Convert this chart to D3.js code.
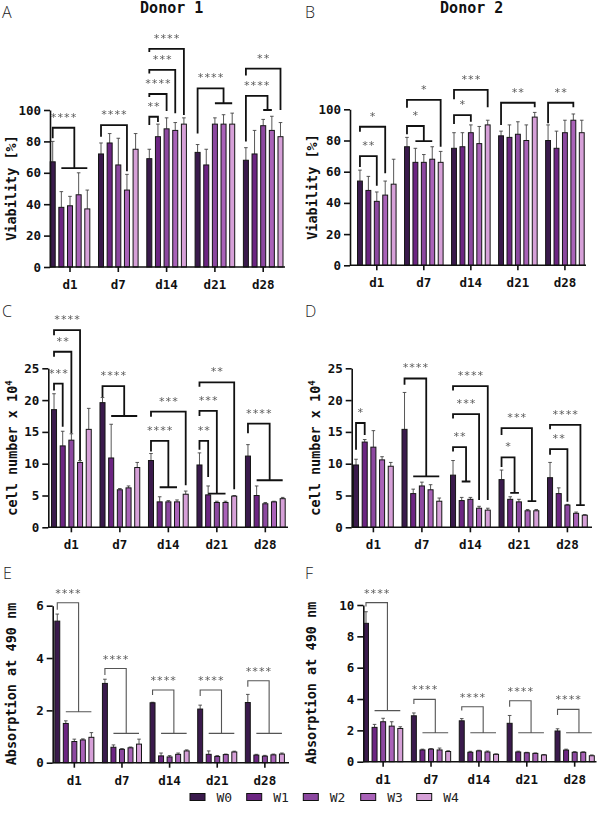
<!DOCTYPE html>
<html><head><meta charset="utf-8">
<script src="https://cdn.jsdelivr.net/npm/d3@7"></script>
<style>body{margin:0;background:#fff} svg{display:block} .sigt{filter:grayscale(1)}</style>
</head><body>
<svg id="c" width="600" height="822"></svg>
<script>
const days = ["d1","d7","d14","d21","d28"];
const groups = ["W0","W1","W2","W3","W4"];
const colors = ["#3a1a4c","#6c2582","#8c48a0","#a962b8","#d6a0d8"];

// Panel A – viability, donor 1 (rows = days, cols = W0..W4)
const viab1 = [[67,38,39,46,37],[72,79,65,49,75],[69,83,88,87,91],[73,65,91,91,91],[68,72,90,87,83]];
const viab1Err = [[13,10,6,14,12],[7,6,17,10,10],[6,8,7,5,4],[5,10,4,6,7],[8,15,4,9,9]];
// significance: [day, from, toStart, toEnd, top, leftEnd, rightEnd, label]
const viab1Sig = [
  [0,0,1,4,88.7,82,63,"****"],
  [1,0,3,3,90.4,83,61,"****"],
  [2,0,1,1,95.7,90.4,92.4,"**"],
  [2,0,2,2,110.2,108.3,99.4,"****"],
  [2,0,3,3,125.5,123.2,98,"***"],
  [2,0,4,4,138.9,137,96.8,"****"],
  [3,0,2,4,113.8,85,104.3,"****"],
  [4,0,4,4,126.4,122,100,"**"],
  [4,0,2,3,109,80,100,"****"]
];

// Panel B – viability, donor 2
const viab2 = [[54,48,41,45,52],[76,66,66,68,66],[75,76,85,78,90],[83,82,84,80,95],[80,75,85,93,85]];
const viab2Err = [[7,9,6,9,16],[6,9,5,8,7],[10,9,5,11,3],[3,8,8,10,3],[10,11,8,4,8]];
const viab2Sig = [
  [0,0,2,2,70,63,51,"**"],
  [0,0,3,3,88.8,85.6,59,"*"],
  [1,0,1,3,89.3,84,79.6,"*"],
  [1,0,4,4,106,101,76,"*"],
  [2,0,2,2,96.3,90.6,92,"*"],
  [2,0,4,4,112.4,106.4,101.3,"***"],
  [3,0,4,4,104.2,90,101.3,"**"],
  [4,0,3,3,104.2,91,101.3,"**"]
];

// Panel C – cell number, donor 1
const cells1 = [[18.5,12.8,13.7,10.2,15.4],[19.6,10.9,5.9,6.2,9.4],[10.5,4.0,4.0,4.0,5.2],[9.8,5.1,3.9,3.9,4.9],[11.2,5.0,3.7,4.0,4.5]];
const cells1Err = [[2.5,2.3,1.0,0.3,3.3],[0.8,5.3,0.2,0.3,0.8],[1.1,0.8,0.2,0.3,0.5],[1.9,1.4,0.2,0.2,0.1],[1.8,1.5,0.2,0.1,0.2]];
const cells1Sig = [
  [0,0,1,1,22.6,21.5,15.8,"***"],
  [0,0,2,2,27.6,26.8,14.8,"**"],
  [0,0,3,3,31,30.2,10.6,"****"],
  [1,0,1,4,22.2,20.5,17.5,"****"],
  [2,0,1,3,13.6,11.9,6.3,"****"],
  [2,0,4,4,18.2,17.4,6.6,"***"],
  [3,0,1,1,13.6,12.2,7.9,"**"],
  [3,0,1,3,18.3,17.5,5.3,"***"],
  [3,0,4,4,22.8,22.1,6.0,"**"],
  [4,0,1,4,16.3,14.8,7.4,"****"]
];

// Panel D – cell number, donor 2
const cells2 = [[9.8,13.4,12.6,10.6,9.6],[15.4,5.3,6.5,5.9,4.1],[8.2,4.2,4.4,3.0,2.7],[7.5,4.4,4.0,2.6,2.6],[7.8,5.3,3.5,2.2,1.9]];
const cells2Err = [[0.9,0.4,2.6,0.5,0.6],[5.8,0.7,0.6,0.8,0.5],[2.3,0.5,0.3,0.3,0.3],[1.5,0.4,0.4,0.2,0.2],[2.4,0.9,0.1,0.2,0.1]];
const cells2Sig = [
  [0,0,1,1,16.4,12.2,14.5,"*"],
  [1,0,1,4,23.4,22.4,8.0,"****"],
  [2,0,1,2,12.6,11.9,7.2,"**"],
  [2,0,3,3,17.8,17.1,4.3,"***"],
  [2,0,4,4,22.2,21.5,4.3,"****"],
  [3,0,1,2,11.0,9.5,5.4,"*"],
  [3,0,3,4,15.6,14.5,4.1,"***"],
  [4,0,2,2,12.3,11.4,4.0,"**"],
  [4,0,3,4,16.1,15.4,3.5,"****"]
];

// Panel E – absorption, donor 1
const abs1 = [[5.41,1.5,0.81,0.87,0.97],[3.03,0.59,0.51,0.57,0.71],[2.29,0.26,0.22,0.32,0.45],[2.05,0.32,0.24,0.31,0.41],[2.3,0.29,0.25,0.3,0.33]];
const abs1Err = [[0.27,0.1,0.09,0.04,0.18],[0.16,0.09,0.03,0.03,0.19],[0.02,0.11,0.05,0.05,0.04],[0.15,0.13,0.03,0.02,0.03],[0.31,0.03,0.03,0.03,0.04]];
const abs1Sig = [
  [0,0,1,4,6.11,5.85,1.95,"****"],
  [1,0,1,4,3.6,3.35,1.12,"****"],
  [2,0,1,4,2.78,2.59,1.12,"****"],
  [3,0,1,4,2.78,2.55,1.12,"****"],
  [4,0,1,4,3.13,2.9,1.12,"****"]
];

// Panel F – absorption, donor 2
const abs2 = [[8.83,2.19,2.55,2.27,2.12],[2.93,0.75,0.8,0.75,0.65],[2.61,0.6,0.69,0.62,0.47],[2.45,0.62,0.57,0.53,0.43],[1.96,0.74,0.6,0.6,0.38]];
const abs2Err = [[0.74,0.19,0.22,0.28,0.11],[0.18,0.05,0.04,0.12,0.05],[0.14,0.06,0.04,0.06,0.03],[0.5,0.05,0.03,0.03,0.03],[0.14,0.06,0.04,0.03,0.05]];
const abs2Sig = [
  [0,0,1,4,10.15,9.9,3.26,"****"],
  [1,0,1,4,3.98,3.68,1.85,"****"],
  [2,0,1,4,3.51,3.26,1.85,"****"],
  [3,0,1,4,3.89,3.5,1.85,"****"],
  [4,0,1,4,3.34,2.98,1.85,"****"]
];

const ticksViab = [0,20,40,60,80,100];
const ticksCells = [0,5,10,15,20,25];
const ticksAbs1 = [0,2,4,6];
const ticksAbs2 = [0,2,4,6,8,10];

const svg = d3.select("#c");
const mono = "'DejaVu Sans Mono', monospace";

function drawPanel(p) {
  const g = svg.append("g");
  const x = d3.scaleBand().domain(days).range(p.xr).paddingInner(0.18).paddingOuter(0);
  const xs = d3.scaleBand().domain(groups).range([0, x.bandwidth()]).paddingInner(0.42);
  const y = d3.scaleLinear().domain([0, p.ymax]).range(p.yr);
  const cx = (di, wi) => x(days[di]) + xs(groups[wi]) + xs.bandwidth() / 2;
  const rows = days.flatMap((d, i) => groups.map((w, j) => ({ i, j, v: p.vals[i][j], e: p.errs[i][j] })));

  // error bars (upper whisker)
  g.append("g").selectAll("path").data(rows).join("path")
    .attr("d", r => { const c = cx(r.i, r.j), t = y(r.v + r.e);
      return `M${c},${y(r.v)}V${t}M${c - 1.8},${t}H${c + 1.8}`; })
    .attr("stroke", "#444").attr("stroke-width", 0.9).attr("fill", "none");

  g.append("g").selectAll("rect").data(rows).join("rect")
    .attr("x", r => x(days[r.i]) + xs(groups[r.j]))
    .attr("y", r => y(r.v))
    .attr("width", xs.bandwidth())
    .attr("height", r => y(0) - y(r.v))
    .attr("fill", r => colors[r.j])
    .attr("stroke", "#151515").attr("stroke-width", 1);

  // y axis
  const ya = g.append("g").attr("transform", `translate(${p.ax},0)`)
    .call(d3.axisLeft(y).tickValues(p.ticks).tickFormat(d3.format("d"))
      .tickSize(6).tickPadding(3).tickSizeOuter(0));
  ya.select(".domain").attr("stroke", "#111").attr("stroke-width", 1.6);
  ya.selectAll(".tick line").attr("stroke", "#111").attr("stroke-width", 1.6);
  ya.selectAll(".tick text").attr("font-family", mono).attr("font-weight", "bold")
    .attr("font-size", 12.5).attr("fill", "#111");

  // x axis
  const y0 = y(0);
  g.append("line").attr("x1", p.ax).attr("x2", p.xEnd).attr("y1", y0).attr("y2", y0)
    .attr("stroke", "#111").attr("stroke-width", 1.6);
  const xa = g.append("g").attr("transform", `translate(0,${y0})`)
    .call(d3.axisBottom(x).tickSize(5).tickPadding(8).tickSizeOuter(0));
  xa.select(".domain").remove();
  xa.selectAll(".tick line").attr("stroke", "#111").attr("stroke-width", 1.6);
  xa.selectAll(".tick text").attr("font-family", mono).attr("font-weight", "bold")
    .attr("font-size", 12.5).attr("fill", "#111");

  // significance brackets
  const sg = g.append("g");
  const st = g.append("g").attr("class", "sigt");
  p.sig.forEach(s => {
    const [di, from, t0, t1, top, lEnd, rEnd, lab] = s;
    const xl = cx(di, from);
    const xr = (cx(di, t0) + cx(di, t1)) / 2;
    let d = `M${xl},${y(lEnd)}V${y(top)}H${xr}V${y(rEnd)}`;
    if (t1 > t0) d += `M${cx(di, t0)},${y(rEnd)}H${cx(di, t1)}`;
    sg.append("path").attr("d", d).attr("fill", "none")
      .attr("stroke", p.thin ? "#555" : "#111")
      .attr("stroke-width", p.thin ? 1.1 : 1.8);
    st.append("text").attr("x", (xl + xr) / 2).attr("y", y(top) - (p.thin ? 6 : 7))
      .attr("text-anchor", "middle").attr("font-family", mono)
      .attr("font-size", 11).attr("fill", "#5a5a5a").text(lab);
  });

  // y label
  const yl = svg.append("text")
    .attr("transform", `translate(${p.ylx},${p.yly}) rotate(-90)`)
    .attr("text-anchor", "middle").attr("font-family", mono).attr("font-weight", "bold")
    .attr("font-size", 13.5).attr("fill", "#111");
  if (p.sup) {
    yl.append("tspan").text(p.ylabel);
    yl.append("tspan").attr("dy", -5).attr("font-size", 9).text(p.sup);
  } else yl.text(p.ylabel);

  // panel letter
  svg.append("text").attr("x", p.lx).attr("y", p.ly)
    .attr("font-family", "'Open Sans', 'Noto Sans', sans-serif").attr("font-weight", 300)
    .attr("font-size", 16).attr("fill", "#222").text(p.letter);
}

drawPanel({letter:"A", lx:2, ly:17.5, vals:viab1, errs:viab1Err, sig:viab1Sig, ymax:100, ticks:ticksViab,
  yr:[267,110], xr:[50.2,283], ax:50, xEnd:285, ylabel:"Viability [%]", ylx:15.5, yly:188});
drawPanel({letter:"B", lx:305, ly:17.5, vals:viab2, errs:viab2Err, sig:viab2Sig, ymax:100, ticks:ticksViab,
  yr:[265.3,109.3], xr:[357.5,584.2], ax:350, xEnd:586, ylabel:"Viability [%]", ylx:317, yly:187});
drawPanel({letter:"C", lx:2, ly:317, vals:cells1, errs:cells1Err, sig:cells1Sig, ymax:25, ticks:ticksCells,
  yr:[527.3,368.3], xr:[51.5,285.2], ax:48.3, xEnd:288, ylabel:"cell number x 10", sup:"4", ylx:16.5, yly:448});
drawPanel({letter:"D", lx:305, ly:317, vals:cells2, errs:cells2Err, sig:cells2Sig, ymax:25, ticks:ticksCells,
  yr:[527.3,368.3], xr:[353.5,587.3], ax:351.7, xEnd:592, ylabel:"cell number x 10", sup:"4", ylx:320, yly:448});
drawPanel({letter:"E", lx:3, ly:579, vals:abs1, errs:abs1Err, sig:abs1Sig, ymax:6, ticks:ticksAbs1, thin:true,
  yr:[762.7,605.7], xr:[54.8,284.4], ax:52.7, xEnd:289, ylabel:"Absorption at 490 nm", ylx:15.5, yly:684});
drawPanel({letter:"F", lx:305, ly:579, vals:abs2, errs:abs2Err, sig:abs2Sig, ymax:10, ticks:ticksAbs2, thin:true,
  yr:[761.7,605], xr:[363.5,594.3], ax:363.3, xEnd:596.5, ylabel:"Absorption at 490 nm", ylx:316, yly:683});

// titles
[["Donor 1",171.7],["Donor 2",471.7]].forEach(([t, cxp]) => {
  svg.append("text").attr("x", cxp).attr("y", 13).attr("text-anchor", "middle")
    .attr("font-family", mono).attr("font-weight", "bold").attr("font-size", 15).attr("fill", "#111").text(t);
});

// legend
const legX = [190, 246.7, 303.3, 360.7, 416.7];
const legY = 797;
const lg = svg.append("g");
lg.selectAll("rect").data(groups).join("rect")
  .attr("x", (d, i) => legX[i]).attr("y", legY - 3.5).attr("width", 15).attr("height", 7)
  .attr("fill", (d, i) => colors[i]).attr("stroke", "#111").attr("stroke-width", 1);
lg.selectAll("text").data(groups).join("text")
  .attr("x", (d, i) => legX[i] + 26.5).attr("y", legY + 5)
  .attr("font-family", mono).attr("font-size", 13).attr("fill", "#222").text(d => d);
</script>
</body></html>
